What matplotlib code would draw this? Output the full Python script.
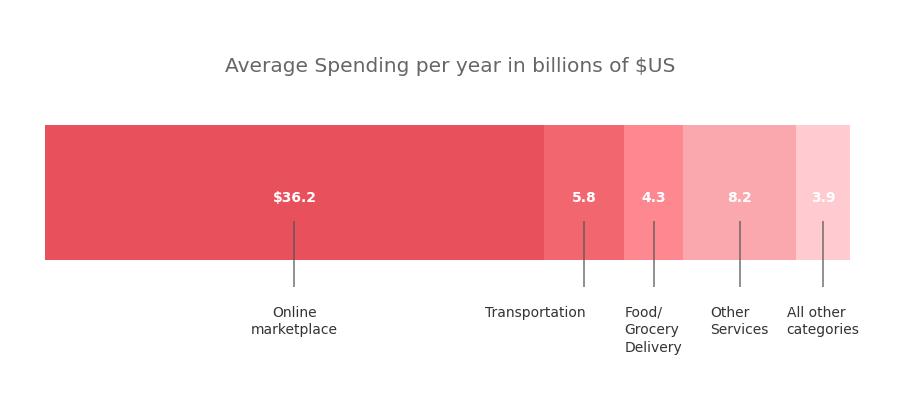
import matplotlib
matplotlib.use('Agg')
import matplotlib.pyplot as plt
import numpy as np

categories = ['Online\nmarketplace', 'Transportation', 'Food/\nGrocery\nDelivery',
              'Other\nServices', 'All other\ncategories']
values = [36.2, 5.8, 4.3, 8.2, 3.9]
value_labels = ['$36.2', '5.8', '4.3', '8.2', '3.9']
colors = ['#E8515B', '#F2676F', '#FE8890', '#FBA7AE', '#FFCBD0']

plt.rcParams['font.family'] = ['DejaVu Sans']

fig = plt.figure(figsize=(9, 3.99), dpi=100)
# axes spans the bar horizontally, y in pixel units (top = 0)
ax = fig.add_axes([45 / 900, 0, 805 / 900, 1])
ax.set_xlim(0, sum(values))
ax.set_ylim(399, 0)
ax.axis('off')

fig.text(0.5, 1 - 66 / 399, 'Average Spending per year in billions of $US',
         ha='center', va='center', fontsize=14.5, color='#666666')

lefts = np.concatenate([[0], np.cumsum(values)[:-1]])
ax.barh(192.5, values, left=lefts, height=135, color=colors, linewidth=0)

# small horizontal nudge (points) so Transportation doesn't collide
label_dx = [0, -35, 0, 0, 0]
for i, (cat, v, lab) in enumerate(zip(categories, values, value_labels)):
    xc = lefts[i] + v / 2
    ax.text(xc, 198, lab, ha='center', va='center', color='white',
            fontsize=10, fontweight='bold')
    ax.plot([xc, xc], [221, 287], color='#555555', alpha=0.7, lw=1.3,
            solid_capstyle='butt')
    ax.annotate(cat, (xc, 306), xytext=(label_dx[i], 0), textcoords='offset points',
                ha='center', va='top', fontsize=10, color='#333333',
                multialignment='center' if i == 0 else 'left', linespacing=1.3)

plt.savefig('out.png', dpi=100)
